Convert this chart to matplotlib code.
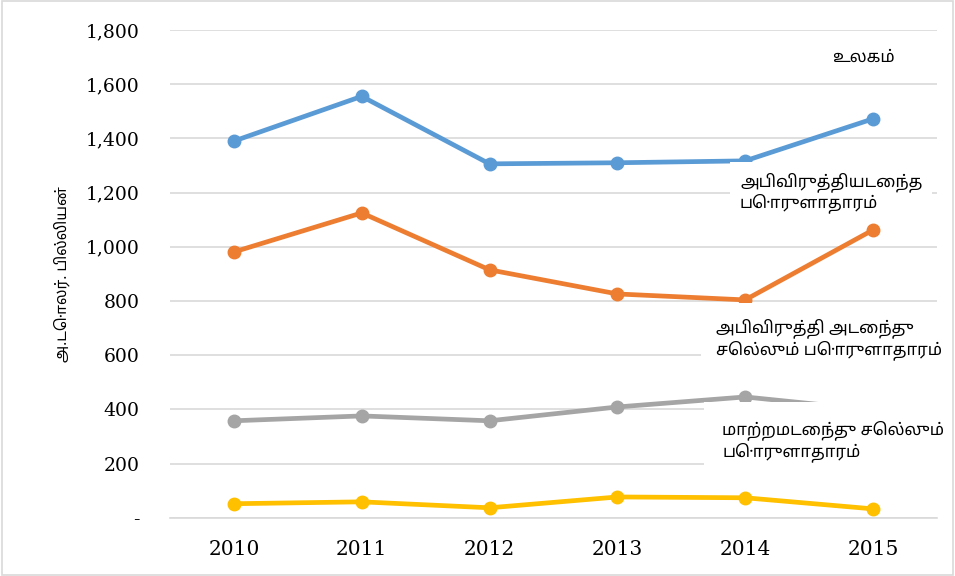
import matplotlib
matplotlib.use("Agg")
import matplotlib.pyplot as plt
from matplotlib import font_manager
from matplotlib.ft2font import FT2Font
from matplotlib.patches import Rectangle

years = ["2010", "2011", "2012", "2013", "2014", "2015"]
world = [1390, 1555, 1306, 1310, 1317, 1472]
developing = [981, 1125, 915, 826, 804, 1062]
transition = [358, 376, 358, 409, 446, 398]
developed = [52, 59, 37, 77, 74, 33]

yticks = [0, 200, 400, 600, 800, 1000, 1200, 1400, 1600, 1800]
ytick_labels = ["-", "200", "400", "600", "800", "1,000", "1,200", "1,400", "1,600", "1,800"]

ylabel = "அ.டொலர். பில்லியன்"
lbl_world = "உலகம்"
lbl_developed = "அபிவிருத்தியடைந்த\nபொருளாதாரம்"
lbl_developing = "அபிவிருத்தி அடைந்து\nசெல்லும் பொருளாதாரம்"
lbl_transition = "மாற்றமடைந்து செல்லும்\nபொருளாதாரம்"

# look for an installed font that has Tamil glyphs, Noto first
found = []
for f in font_manager.fontManager.ttflist:
    try:
        if 0x0B95 in FT2Font(f.fname).get_charmap():
            found.append(f.name)
    except Exception:
        pass
found.sort(key=lambda n: (0 if "Noto" in n else 1, n))
fam = [found[0], "DejaVu Sans"] if found else ["DejaVu Sans"]

fig = plt.figure(figsize=(9.55, 5.76), dpi=100)
fig.patches.append(Rectangle((0.002, 0.002), 0.996, 0.996, transform=fig.transFigure,
                             fill=False, edgecolor="#d9d9d9", linewidth=1.2))
ax = fig.add_axes([0.178, 0.101, 0.803, 0.847])

x = list(range(len(years)))
series = [(world, "#5B9BD5"), (developing, "#ED7D31"), (transition, "#A5A5A5"), (developed, "#FFC000")]
for vals, c in series:
    ax.plot(x, vals, color=c, linewidth=3.4, marker="o", markersize=9, zorder=3,
            solid_capstyle="round")

ax.set_xlim(-0.5, 5.5)
ax.set_ylim(0, 1800)
ax.set_yticks(yticks)
ax.set_yticklabels(ytick_labels, fontfamily="DejaVu Serif", fontsize=13.5)
ax.set_xticks(x)
ax.set_xticklabels(years, fontfamily="DejaVu Serif", fontsize=14.5)
ax.tick_params(axis="y", length=0, pad=22)
ax.tick_params(axis="x", length=0, pad=16)
ax.grid(axis="y", color="#d9d9d9", linewidth=1.2, zorder=0)
ax.set_axisbelow(True)
for s in ["top", "right", "left"]:
    ax.spines[s].set_visible(False)
ax.spines["bottom"].set_color("#d9d9d9")
ax.spines["bottom"].set_linewidth(1.2)

ax.set_ylabel(ylabel, family=fam, fontsize=11, labelpad=11)

def box(p):
    return dict(facecolor="white", edgecolor="none", boxstyle="square,pad=%s" % p)

ax.text(4.68, 1697, lbl_world, family=fam, fontsize=12, va="center", ha="left", zorder=5)
ax.text(3.96, 1200, lbl_developed, family=fam, fontsize=12, va="center", ha="left",
        zorder=5, bbox=box(0.6), linespacing=1.15)
ax.text(3.77, 660, lbl_developing, family=fam, fontsize=12, va="center", ha="left",
        zorder=5, bbox=box(0.9), linespacing=1.15)
ax.text(3.82, 284, lbl_transition, family=fam, fontsize=12, va="center", ha="left",
        zorder=5, bbox=box(1.1), linespacing=1.15)

fig.savefig("out.png", dpi=100)
